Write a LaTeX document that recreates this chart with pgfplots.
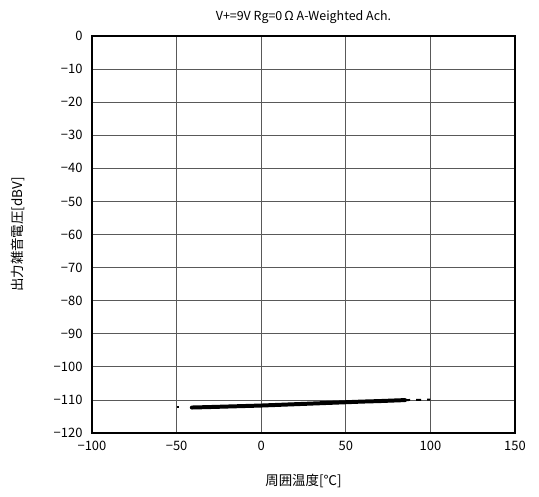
\documentclass[border=0pt]{standalone}
\usepackage{pgfplots}
\pgfplotsset{compat=1.18}
\usepackage{fontspec}
\setmainfont{Noto Sans CJK JP}
\begin{document}
\begin{tikzpicture}[x=1bp,y=1bp]
\path[use as bounding box] (-92,-64) rectangle (447,433);
\begin{axis}[
  at={(0,0)}, anchor=south west,
  scale only axis, width=423bp, height=397bp,
  xmin=-100, xmax=150, ymin=-120, ymax=0,
  xtick={-100,-50,0,50,100,150},
  xticklabels={−100,−50,0,50,100,150},
  ytick={-120,-110,...,0},
  yticklabels={−120,−110,−100,−90,−80,−70,−60,−50,−40,−30,−20,−10,0},
  grid=major,
  major grid style={draw=black!65, line width=0.8pt},
  axis line style={line width=1.2pt},
  tick style={draw=none},
  tick label style={font=\fontsize{13}{15}\selectfont},
  xticklabel style={yshift=-5bp},
  yticklabel style={xshift=-6bp},
  title={V+=9V Rg=0\,Ω A-Weighted Ach.},
  title style={font=\fontsize{12.5}{14}\selectfont, yshift=3bp},
  xlabel={周囲温度[℃]},
  ylabel={出力雑音電圧[dBV]},
  label style={font=\fontsize{13.5}{15}\selectfont},
  xlabel style={yshift=-16bp},
  ylabel style={yshift=22bp},
]
\addplot[black, line width=4pt, line cap=round] coordinates {
(-41,-112.3) (-30,-112.15) (-20,-112.0) (-10,-111.85) (0,-111.7) (10,-111.5) (20,-111.3) (30,-111.1) (40,-110.9) (50,-110.7) (60,-110.5) (70,-110.35) (80,-110.15) (85,-110.05)
};
\addplot[black, line width=2pt, dash pattern=on 5bp off 6bp] coordinates {
(85,-110.05) (100,-109.9)
};
\addplot[black, line width=1pt] coordinates {(-49.5,-111.9) (-48.5,-111.9)};
\addplot[black, line width=1pt] coordinates {(-49.5,-112.4) (-48.5,-112.4)};
\end{axis}
\end{tikzpicture}
\end{document}
